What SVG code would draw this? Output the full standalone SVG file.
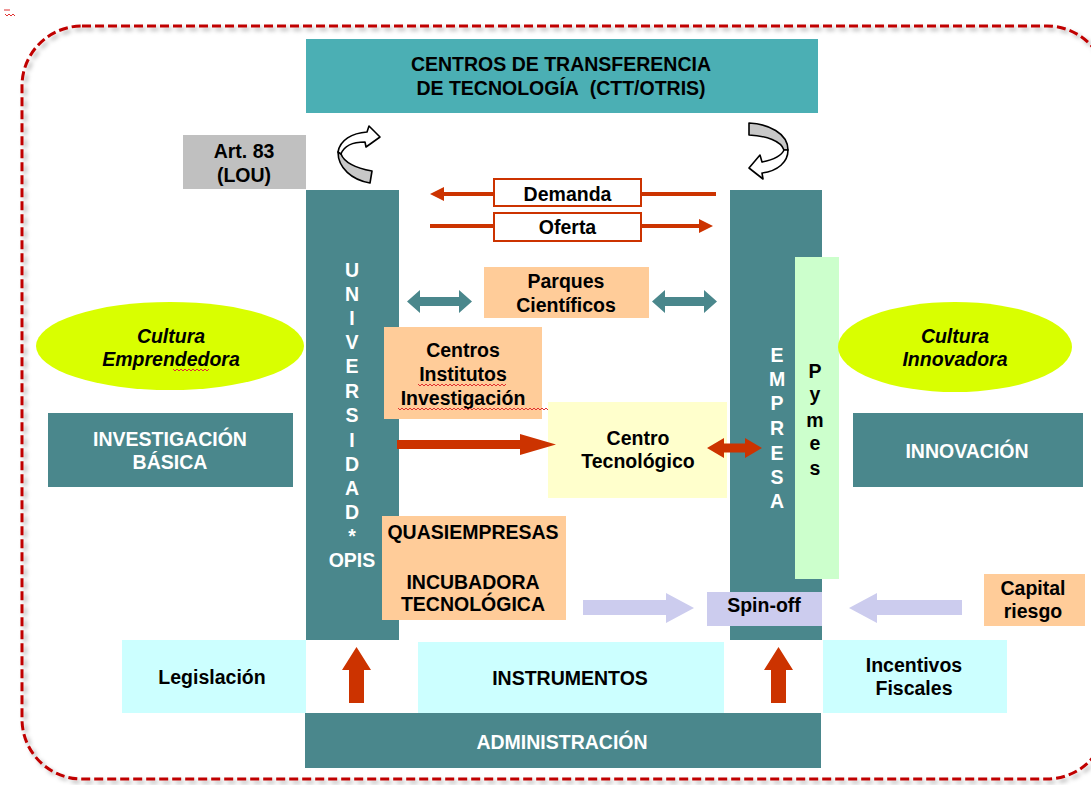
<svg xmlns="http://www.w3.org/2000/svg" width="1091" height="785" viewBox="0 0 1091 785">
  <defs>
    <filter id="shadow" x="-5%" y="-5%" width="110%" height="110%">
      <feDropShadow dx="3" dy="3" stdDeviation="2" flood-color="#000" flood-opacity="0.3"/>
    </filter>
    <marker id="redHead" markerUnits="userSpaceOnUse" markerWidth="16" markerHeight="16" refX="0" refY="7" orient="auto">
      <path d="M0,0 L14,7 L0,14 Z" fill="#cc3300"/>
    </marker>
  </defs>
  <style>
    .t { font-family: "Liberation Sans", Arial, sans-serif; font-weight: bold; font-size: 19.5px; text-anchor: middle; fill: #000; }
    .w { fill: #fff; }
    .i { font-style: italic; }
    .teal { fill: #4a878c; }
    .cyan { fill: #4bafb4; }
    .peach { fill: #ffcc99; }
    .pale { fill: #ccffff; }
    .lav { fill: #ccccee; }
    .yel { fill: #d9ff00; }
    .red { fill: #cc3300; }
    .spell { fill: none; stroke: #e03030; stroke-width: 1; }
    .flow { stroke: #cc3300; stroke-width: 4; fill: none; }
    .curl { stroke: #000; stroke-width: 1.6; stroke-linejoin: round; }
  </style>

  <rect width="1091" height="785" fill="#fff"/>

  <!-- small proofing mark in the corner -->
  <path class="spell" d="M4,10 h6 M5,14 l2,2 l2,-2 l2,2 l2,-2 l2,2"/>

  <!-- dashed frame (runs past the right edge) -->
  <rect x="22" y="26" width="1085" height="753" rx="60" ry="60" fill="none" stroke="#c00000" stroke-width="3" stroke-dasharray="9 4" filter="url(#shadow)"/>

  <g id="ctt">
    <rect class="cyan" x="306" y="39" width="512" height="74"/>
    <text class="t" x="561" y="71">CENTROS DE TRANSFERENCIA</text>
    <text class="t" x="561" y="95">DE TECNOLOGÍA&#160; (CTT/OTRIS)</text>
  </g>

  <g id="art83">
    <rect x="183" y="135" width="123" height="54" fill="#c0c0c0"/>
    <text class="t" x="244" y="158">Art. 83</text>
    <text class="t" x="244" y="182">(LOU)</text>
  </g>

  <g id="universidad">
    <rect class="teal" x="306" y="190" width="93" height="450"/>
    <text class="t w" x="352" y="277">U</text>
    <text class="t w" x="352" y="301">N</text>
    <text class="t w" x="352" y="325">I</text>
    <text class="t w" x="352" y="349">V</text>
    <text class="t w" x="352" y="373">E</text>
    <text class="t w" x="352" y="398">R</text>
    <text class="t w" x="352" y="422">S</text>
    <text class="t w" x="352" y="447">I</text>
    <text class="t w" x="352" y="471">D</text>
    <text class="t w" x="352" y="495">A</text>
    <text class="t w" x="352" y="519">D</text>
    <text class="t w" x="352" y="543">*</text>
    <text class="t w" x="352" y="567">OPIS</text>
  </g>

  <g id="empresa">
    <rect class="teal" x="730" y="190" width="92" height="450"/>
    <text class="t w" x="777" y="362">E</text>
    <text class="t w" x="777" y="386">M</text>
    <text class="t w" x="777" y="410">P</text>
    <text class="t w" x="777" y="435">R</text>
    <text class="t w" x="777" y="460">E</text>
    <text class="t w" x="777" y="484">S</text>
    <text class="t w" x="777" y="508">A</text>
  </g>

  <g id="pymes">
    <rect x="795" y="257" width="44" height="322" fill="#ccffcc"/>
    <text class="t" x="815" y="378">P</text>
    <text class="t" x="815" y="401">y</text>
    <text class="t" x="815" y="427">m</text>
    <text class="t" x="815" y="450">e</text>
    <text class="t" x="815" y="475">s</text>
  </g>

  <g id="demanda">
    <rect x="494" y="179" width="147" height="27" fill="#fff" stroke="#cc3300" stroke-width="2"/>
    <text class="t" x="567.5" y="201">Demanda</text>
  </g>

  <g id="oferta">
    <rect x="494" y="213" width="147" height="28" fill="#fff" stroke="#cc3300" stroke-width="2"/>
    <text class="t" x="567.5" y="234">Oferta</text>
  </g>

  <g id="parques">
    <rect class="peach" x="484" y="267" width="165" height="51"/>
    <text class="t" x="566" y="288">Parques</text>
    <text class="t" x="566" y="312">Científicos</text>
  </g>

  <g id="centros-investigacion">
    <rect class="peach" x="384" y="327" width="158" height="92"/>
    <text class="t" x="463" y="357">Centros</text>
    <text class="t" x="463" y="381">Institutos</text>
    <text class="t" x="463" y="405">Investigación</text>
    <path class="spell" d="M418,384 l2,2 l2,-2 l2,2 l2,-2 l2,2 l2,-2 l2,2 l2,-2 l2,2 l2,-2 l2,2 l2,-2 l2,2 l2,-2 l2,2 l2,-2 l2,2 l2,-2 l2,2 l2,-2 l2,2 l2,-2 l2,2 l2,-2 l2,2 l2,-2 l2,2 l2,-2 l2,2 l2,-2 l2,2 l2,-2 l2,2 l2,-2 l2,2 l2,-2 l2,2 l2,-2 l2,2 l2,-2 l2,2 l2,-2 l2,2 l2,-2"/>
    <path class="spell" d="M398,408 l2,2 l2,-2 l2,2 l2,-2 l2,2 l2,-2 l2,2 l2,-2 l2,2 l2,-2 l2,2 l2,-2 l2,2 l2,-2 l2,2 l2,-2 l2,2 l2,-2 l2,2 l2,-2 l2,2 l2,-2 l2,2 l2,-2 l2,2 l2,-2 l2,2 l2,-2 l2,2 l2,-2 l2,2 l2,-2 l2,2 l2,-2 l2,2 l2,-2 l2,2 l2,-2 l2,2 l2,-2 l2,2 l2,-2 l2,2 l2,-2 l2,2 l2,-2 l2,2 l2,-2 l2,2 l2,-2 l2,2 l2,-2 l2,2 l2,-2 l2,2 l2,-2 l2,2 l2,-2 l2,2 l2,-2 l2,2 l2,-2 l2,2 l2,-2 l2,2 l2,-2 l2,2 l2,-2 l2,2 l2,-2 l2,2 l2,-2 l2,2 l2,-2 l2,2 l2,-2 l2,2"/>
  </g>

  <g id="centro-tecnologico">
    <rect x="548" y="402" width="179" height="96" fill="#ffffcc"/>
    <text class="t" x="638" y="445">Centro</text>
    <text class="t" x="638" y="468">Tecnológico</text>
  </g>

  <g id="cultura-emprendedora">
    <ellipse class="yel" cx="170" cy="346" rx="134" ry="44"/>
    <text class="t i" x="171" y="343">Cultura</text>
    <text class="t i" x="171" y="366">Emprendedora</text>
    <path class="spell" d="M173,369 l2,2 l2,-2 l2,2 l2,-2 l2,2 l2,-2 l2,2 l2,-2 l2,2 l2,-2 l2,2 l2,-2 l2,2 l2,-2 l2,2 l2,-2 l2,2 l2,-2"/>
  </g>

  <g id="investigacion-basica">
    <rect class="teal" x="48" y="413" width="245" height="74"/>
    <text class="t w" x="170" y="446">INVESTIGACIÓN</text>
    <text class="t w" x="170" y="469">BÁSICA</text>
  </g>

  <g id="cultura-innovadora">
    <ellipse class="yel" cx="955" cy="347" rx="117" ry="45"/>
    <text class="t i" x="955" y="343">Cultura</text>
    <text class="t i" x="955" y="366">Innovadora</text>
  </g>

  <g id="innovacion">
    <rect class="teal" x="853" y="413" width="230" height="74"/>
    <text class="t w" x="967" y="458">INNOVACIÓN</text>
  </g>

  <g id="quasiempresas">
    <rect class="peach" x="382" y="516" width="184" height="104"/>
    <text class="t" x="473" y="539">QUASIEMPRESAS</text>
    <text class="t" x="473" y="589">INCUBADORA</text>
    <text class="t" x="473" y="611">TECNOLÓGICA</text>
  </g>

  <g id="spin-off">
    <rect class="lav" x="707" y="592" width="115" height="34"/>
    <text class="t" x="764" y="612">Spin-off</text>
  </g>

  <g id="capital-riesgo">
    <rect class="peach" x="984" y="574" width="101" height="52"/>
    <text class="t" x="1033" y="595">Capital</text>
    <text class="t" x="1033" y="618">riesgo</text>
  </g>

  <g id="legislacion">
    <rect class="pale" x="122" y="640" width="184" height="73"/>
    <text class="t" x="212" y="684">Legislación</text>
  </g>

  <g id="instrumentos">
    <rect class="pale" x="418" y="642" width="306" height="71"/>
    <text class="t" x="570" y="685">INSTRUMENTOS</text>
  </g>

  <g id="incentivos-fiscales">
    <rect class="pale" x="823" y="640" width="184" height="73"/>
    <text class="t" x="914" y="672">Incentivos</text>
    <text class="t" x="914" y="695">Fiscales</text>
  </g>

  <g id="administracion">
    <rect class="teal" x="305" y="713" width="516" height="55"/>
    <text class="t w" x="562" y="749">ADMINISTRACIÓN</text>
  </g>

  <g id="connectors">
    <!-- demand / offer flows -->
    <path class="flow" d="M716,194 H641"/>
    <path class="flow" d="M494,194 H444" marker-end="url(#redHead)"/>
    <path class="flow" d="M430,226 H494"/>
    <path class="flow" d="M641,226 H699" marker-end="url(#redHead)"/>

    <!-- two-way links around the science parks -->
    <polygon class="teal" points="407,301.5 420,290 420,297 459,297 459,290 472,301.5 459,313 459,306 420,306 420,313"/>
    <polygon class="teal" points="652,301.5 665,290 665,297 704,297 704,290 717,301.5 704,313 704,306 665,306 665,313"/>

    <!-- university to technology centre -->
    <polygon class="red" points="397,440 520,440 520,434 556,444.5 520,455 520,449 397,449"/>
    <!-- technology centre to companies -->
    <polygon class="red" points="707,448 724,438 724,443.5 745,443.5 745,438 762,448 745,458 745,452.5 724,452.5 724,458"/>

    <!-- spin-off feeds -->
    <polygon class="lav" points="583,600 666,600 666,593 694,608 666,623 666,615 583,615"/>
    <polygon class="lav" points="962,600 877,600 877,593 849,608 877,623 877,615 962,615"/>

    <!-- administration support -->
    <polygon class="red" points="349,703 349,670 342,670 356.5,647 371,670 364,670 364,703"/>
    <polygon class="red" points="771,703 771,670 764,670 778.5,647 793,670 786,670 786,703"/>

    <!-- circular exchange arrows -->
    <g id="curl-left">
      <path class="curl" fill="#c8c8c8" d="M338,152 C338,168 352,180 370,183 L372,171 C356,168 344,162 341,154 Z"/>
      <path class="curl" fill="#fff" d="M338,152 C340,140 352,133 367,132 L369,126 L380,137 L366,147 L365,142 C352,142 344,146 341,154 Z"/>
    </g>
    <g id="curl-right">
      <path class="curl" fill="#c8c8c8" d="M749,123 C768,124 788,133 788,150 L784,150 C781,141 767,136 749,135 Z"/>
      <path class="curl" fill="#fff" d="M788,150 C788,162 778,171 762,173 L763,179 L749,168 L760,155 L762,162 C772,160 781,157 784,150 Z"/>
    </g>
  </g>
</svg>
